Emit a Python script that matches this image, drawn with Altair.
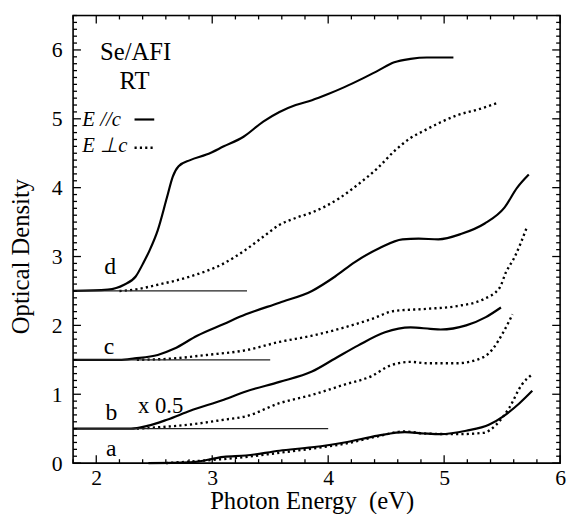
import altair as alt
import pandas as pd

# ---- curve data (Photon energy in eV, optical density) ----
# d : E // c (solid) and E _|_ c (dotted)
d_par_x = [1.80, 2.10, 2.24, 2.34, 2.41, 2.46, 2.53, 2.61, 2.66, 2.71, 2.81, 2.95, 3.10, 3.27, 3.44,
           3.58, 3.72, 3.86, 4.00, 4.14, 4.29, 4.43, 4.57, 4.71, 4.85, 5.00, 5.08]
d_par_y = [2.50, 2.52, 2.59, 2.71, 2.92, 3.09, 3.38, 3.86, 4.16, 4.31, 4.40, 4.48, 4.60, 4.74, 4.96,
           5.10, 5.20, 5.27, 5.36, 5.46, 5.58, 5.70, 5.82, 5.87, 5.89, 5.89, 5.89]
d_perp_x = [2.20, 2.33, 2.53, 2.81, 3.10, 3.29, 3.45, 3.58, 3.72, 3.86, 4.09, 4.26, 4.43, 4.57, 4.71,
            4.83, 4.97, 5.11, 5.30, 5.46]
d_perp_y = [2.50, 2.52, 2.59, 2.71, 2.90, 3.10, 3.30, 3.46, 3.56, 3.64, 3.84, 4.05, 4.29, 4.53, 4.72,
            4.83, 4.95, 5.05, 5.14, 5.23]

# c
c_par_x = [1.80, 2.20, 2.33, 2.53, 2.67, 2.87, 3.10, 3.29, 3.58, 3.86, 4.06, 4.23, 4.44, 4.64, 4.78,
           4.95, 5.15, 5.35, 5.52, 5.63, 5.73]
c_par_y = [1.50, 1.50, 1.52, 1.57, 1.66, 1.85, 2.02, 2.16, 2.33, 2.50, 2.71, 2.92, 3.12, 3.25, 3.26,
           3.25, 3.33, 3.48, 3.71, 4.00, 4.19]
c_perp_x = [2.35, 2.67, 2.95, 3.29, 3.58, 3.86, 4.14, 4.37, 4.57, 4.85, 5.11, 5.34, 5.48, 5.53, 5.61, 5.71]
c_perp_y = [1.50, 1.52, 1.57, 1.64, 1.76, 1.85, 1.97, 2.09, 2.21, 2.24, 2.28, 2.38, 2.55, 2.76, 3.00, 3.41]

# b (x 0.5)
b_par_x = [1.80, 2.30, 2.44, 2.61, 2.81, 3.10, 3.29, 3.58, 3.86, 4.06, 4.26, 4.49, 4.71, 4.88, 4.97,
           5.19, 5.36, 5.49]
b_par_y = [0.50, 0.50, 0.54, 0.63, 0.76, 0.92, 1.04, 1.18, 1.33, 1.52, 1.71, 1.90, 1.97, 1.95, 1.94,
           2.00, 2.12, 2.26]
b_perp_x = [2.35, 2.53, 2.81, 3.10, 3.29, 3.58, 3.86, 4.14, 4.37, 4.54, 4.71, 4.85, 5.11, 5.34, 5.42,
            5.51, 5.59]
b_perp_y = [0.50, 0.52, 0.56, 0.63, 0.68, 0.87, 0.99, 1.14, 1.26, 1.42, 1.47, 1.45, 1.45, 1.54, 1.66,
            1.90, 2.16]

# a
a_par_x = [2.45, 2.81, 3.10, 3.29, 3.58, 3.86, 4.14, 4.43, 4.66, 4.83, 4.97, 5.19, 5.39, 5.51, 5.65, 5.76]
a_par_y = [0.00, 0.01, 0.09, 0.11, 0.18, 0.23, 0.30, 0.40, 0.45, 0.43, 0.42, 0.47, 0.56, 0.68, 0.87, 1.05]
a_perp_x = [2.60, 2.95, 3.24, 3.58, 3.86, 4.14, 4.43, 4.66, 4.83, 5.11, 5.34, 5.45, 5.56, 5.67, 5.76]
a_perp_y = [0.00, 0.04, 0.08, 0.15, 0.21, 0.28, 0.39, 0.46, 0.43, 0.42, 0.44, 0.56, 0.80, 1.14, 1.29]

# baselines of the offset spectra
base_level = [2.5, 1.5, 0.5]
base_start = [1.8, 1.8, 1.8]
base_end = [3.3, 3.5, 4.0]

# legend key lines
leg_solid_x = [2.33, 2.50]
leg_solid_y = [4.99, 4.99]
leg_dot_x = [2.33, 2.50]
leg_dot_y = [4.58, 4.58]

# text annotations
curve_labels = ["d", "c", "b", "a"]
curve_label_x = [2.12, 2.11, 2.13, 2.13]
curve_label_y = [2.74, 1.59, 0.63, 0.11]
scale_note = ["x 0.5"]
scale_note_x = [2.36]
scale_note_y = [0.73]
title_lines = ["Se/AFI", "RT"]
title_x = [2.34, 2.33]
title_y = [5.85, 5.44]
legend_labels = ["E //c", "E \u22a5c"]
legend_x = [1.88, 1.88]
legend_y = [4.89, 4.52]

# axes
x_domain = [1.8, 6.0]
y_domain = [0.0, 6.5]
x_major = [2, 3, 4, 5, 6]
y_major = [0, 1, 2, 3, 4, 5, 6]
x_minor = [v for v in [round(1.8 + 0.2 * i, 1) for i in range(22)] if abs(v - round(v)) > 1e-6]
y_minor = [v for v in [round(0.1 * i, 1) for i in range(66)] if abs(v - round(v)) > 1e-6]

FONT = "Liberation Serif"
W, H = 494, 454
MAJ_PX, MIN_PX = 8, 4
ux = (x_domain[1] - x_domain[0]) / W
uy = (y_domain[1] - y_domain[0]) / H


def tbl(name, xs, ys):
    return pd.DataFrame({"x": xs, "y": ys, "curve": name})


solid_df = pd.concat([tbl("d", d_par_x, d_par_y), tbl("c", c_par_x, c_par_y),
                      tbl("b", b_par_x, b_par_y), tbl("a", a_par_x, a_par_y),
                      tbl("leg", leg_solid_x, leg_solid_y)], ignore_index=True)
dot_df = pd.concat([tbl("d", d_perp_x, d_perp_y), tbl("c", c_perp_x, c_perp_y),
                    tbl("b", b_perp_x, b_perp_y), tbl("a", a_perp_x, a_perp_y),
                    tbl("leg", leg_dot_x, leg_dot_y)], ignore_index=True)
base_df = pd.concat([tbl(f"base{i}", [s, e], [lv, lv])
                     for i, (lv, s, e) in enumerate(zip(base_level, base_start, base_end))],
                    ignore_index=True)

# inward tick segments (start/end columns)
xt_rows = []
for vals, px in [(x_major, MAJ_PX), (x_minor, MIN_PX)]:
    for v in vals:
        xt_rows.append({"v": v, "a": y_domain[0], "b": y_domain[0] + px * uy})
        xt_rows.append({"v": v, "a": y_domain[1], "b": y_domain[1] - px * uy})
yt_rows = []
for vals, px in [(y_major, MAJ_PX), (y_minor, MIN_PX)]:
    for v in vals:
        yt_rows.append({"v": v, "a": x_domain[0], "b": x_domain[0] + px * ux})
        yt_rows.append({"v": v, "a": x_domain[1], "b": x_domain[1] - px * ux})
xt_df = pd.DataFrame(xt_rows)
yt_df = pd.DataFrame(yt_rows)
box_df = pd.DataFrame({"x0": [x_domain[0]], "x1": [x_domain[1]], "y0": [y_domain[0]], "y1": [y_domain[1]]})

lab_df = pd.DataFrame({"x": curve_label_x, "y": curve_label_y, "t": curve_labels})
note_df = pd.DataFrame({"x": scale_note_x, "y": scale_note_y, "t": scale_note})
ttl_df = pd.DataFrame({"x": title_x, "y": title_y, "t": title_lines})
leg_df = pd.DataFrame({"x": legend_x, "y": legend_y, "t": legend_labels})

xs = alt.Scale(domain=x_domain, nice=False, zero=False)
ys = alt.Scale(domain=y_domain, nice=False, zero=False)

x_bottom = alt.Axis(orient="bottom", values=x_major, format=".0f", ticks=False, domain=False,
                    grid=False, labelPadding=5, labelFlush=False, labelOverlap=False,
                    labelFont=FONT, labelFontSize=22, labelColor="black",
                    title="Photon Energy \u00a0(eV)", titleFont=FONT, titleFontSize=25,
                    titleFontWeight="normal", titleColor="black", titleX=242, titleY=46,
                    titleAlign="center", titleBaseline="alphabetic")
y_left = alt.Axis(orient="left", values=y_major, format=".0f", ticks=False, domain=False,
                  grid=False, labelPadding=11, labelFlush=False, labelOverlap=False,
                  labelFont=FONT, labelFontSize=22, labelColor="black",
                  title="Optical Density", titleFont=FONT, titleFontSize=25,
                  titleFontWeight="normal", titleColor="black", titleX=-45, titleY=244,
                  titleAlign="center", titleBaseline="alphabetic", titleAngle=-90)

X0 = alt.X("x:Q", scale=xs, axis=None)
Y0 = alt.Y("y:Q", scale=ys, axis=None)

solid = alt.Chart(solid_df).mark_line(color="black", strokeWidth=2.2, interpolate="monotone").encode(
    x=alt.X("x:Q", scale=xs, axis=x_bottom),
    y=alt.Y("y:Q", scale=ys, axis=y_left),
    detail="curve:N",
)
dotted = alt.Chart(dot_df).mark_line(color="black", strokeWidth=2.4, strokeDash=[2.2, 3.2],
                                     interpolate="monotone").encode(x=X0, y=Y0, detail="curve:N")
base = alt.Chart(base_df).mark_line(color="#222222", strokeWidth=1.2).encode(
    x=X0, y=Y0, detail="curve:N")
box = alt.Chart(box_df).mark_rect(fillOpacity=0, stroke="black", strokeWidth=1.6).encode(
    x=alt.X("x0:Q", scale=xs, axis=None), x2="x1:Q",
    y=alt.Y("y0:Q", scale=ys, axis=None), y2="y1:Q")
xtick = alt.Chart(xt_df).mark_rule(color="black", strokeWidth=1.3).encode(
    x=alt.X("v:Q", scale=xs, axis=None),
    y=alt.Y("a:Q", scale=ys, axis=None), y2="b:Q")
ytick = alt.Chart(yt_df).mark_rule(color="black", strokeWidth=1.3).encode(
    y=alt.Y("v:Q", scale=ys, axis=None),
    x=alt.X("a:Q", scale=xs, axis=None), x2="b:Q")

labels = alt.Chart(lab_df).mark_text(font=FONT, fontSize=24, color="black", align="center",
                                     baseline="alphabetic").encode(x=X0, y=Y0, text="t:N")
note = alt.Chart(note_df).mark_text(font=FONT, fontSize=23, color="black", align="left",
                                    baseline="alphabetic").encode(x=X0, y=Y0, text="t:N")
ttl = alt.Chart(ttl_df).mark_text(font=FONT, fontSize=25, color="black", align="center",
                                  baseline="alphabetic").encode(x=X0, y=Y0, text="t:N")
leg = alt.Chart(leg_df).mark_text(font=FONT, fontSize=21, fontStyle="italic", color="black",
                                  align="left", baseline="alphabetic").encode(x=X0, y=Y0, text="t:N")

chart = alt.layer(solid, dotted, base, box, xtick, ytick, labels, note, ttl, leg).resolve_axis(
    x="independent", y="independent"
).properties(
    width=W, height=H,
    autosize=alt.AutoSizeParams(type="none"),
    padding={"left": 66, "top": 4, "right": 7, "bottom": 48},
).configure_view(strokeWidth=0).configure(font=FONT, background="white")

chart.save("out.html", embed_options={"renderer": "svg", "actions": False})
